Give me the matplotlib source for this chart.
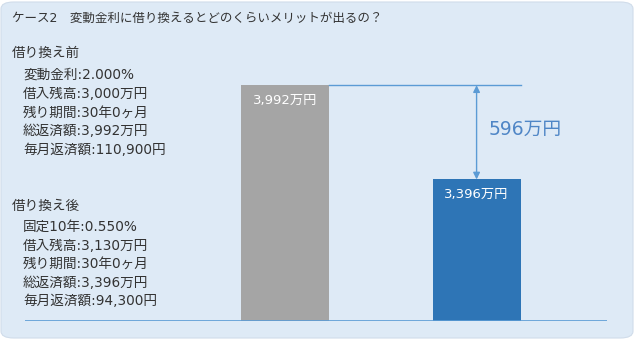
import matplotlib.pyplot as plt
from matplotlib.patches import FancyBboxPatch

# DejaVu first gives the wide digits, CJK falls back to Noto
plt.rcParams['font.family'] = ['DejaVu Sans', 'Noto Sans CJK JP']

title = "ケース2　変動金利に借り換えるとどのくらいメリットが出るの？"
before_head = "借り換え前"
before_lines = ["変動金利:2.000%", "借入残高:3,000万円", "残り期間:30年0ヶ月",
                "総返済額:3,992万円", "毎月返済額:110,900円"]
after_head = "借り換え後"
after_lines = ["固定10年:0.550%", "借入残高:3,130万円", "残り期間:30年0ヶ月",
               "総返済額:3,396万円", "毎月返済額:94,300円"]
totals = [3992, 3396]
bar_labels = ["3,992万円", "3,396万円"]
diff_label = "596万円"
bar_colors = ["#a5a5a5", "#2e75b6"]
line_c = "#5b9bd5"
txt_c = "#333333"

W, H = 636, 339
fig = plt.figure(figsize=(W / 100, H / 100), dpi=100)
fig.patch.set_facecolor("white")

# rounded background panel
bg = FancyBboxPatch((1 / W, 1 / H), 632 / W, 336 / H,
                    boxstyle="round,pad=0,rounding_size=0.02",
                    transform=fig.transFigure, facecolor="#deeaf6",
                    edgecolor="#d0dcea", lw=0.8, zorder=-1)
fig.patches.append(bg)

def fy(py):
    return 1 - py / H

fig.text(12 / W, fy(18), title, fontsize=9, color=txt_c, va="center")
fig.text(12 / W, fy(53), before_head, fontsize=9.8, color=txt_c, va="center")
for i, s in enumerate(before_lines):
    fig.text(23 / W, fy(75 + i * 18.8), s, fontsize=9.8, color=txt_c, va="center")
fig.text(12 / W, fy(206), after_head, fontsize=9.8, color=txt_c, va="center")
for i, s in enumerate(after_lines):
    fig.text(23 / W, fy(227 + i * 18.6), s, fontsize=9.8, color=txt_c, va="center")

# chart axes: baseline at y=321 px, x from 25 to 607 px
ax = fig.add_axes([25 / W, 18 / H, 582 / W, 268.6 / H])
ax.patch.set_alpha(0)
x = [0, 1]
ymin, ymax = 2500, 4200
ax.bar(x, totals, bottom=0, width=0.46, color=bar_colors, zorder=2)
ax.set_ylim(ymin, ymax)
ax.set_xlim(-1.358, 1.681)
for s in ax.spines.values():
    s.set_visible(False)
ax.set_xticks([])
ax.set_yticks([])
ax.axhline(ymin, color=line_c, lw=1.2, zorder=3)

for xi, v, lab in zip(x, totals, bar_labels):
    ax.text(xi, v - 95, lab, color="white", fontsize=9.5, ha="center", va="center")

ax.plot([0.23, 1.23], [totals[0], totals[0]], color=line_c, lw=1)
ax.annotate("", xy=(1, totals[1]), xytext=(1, totals[0]),
            arrowprops=dict(arrowstyle="<|-|>", color=line_c, lw=1,
                            mutation_scale=10, shrinkA=0, shrinkB=0))
ax.text(1.06, (totals[0] + totals[1]) / 2 + 20, diff_label, color="#4f86c6",
        fontsize=13.5, ha="left", va="center")

fig.savefig("out.png", dpi=100)
